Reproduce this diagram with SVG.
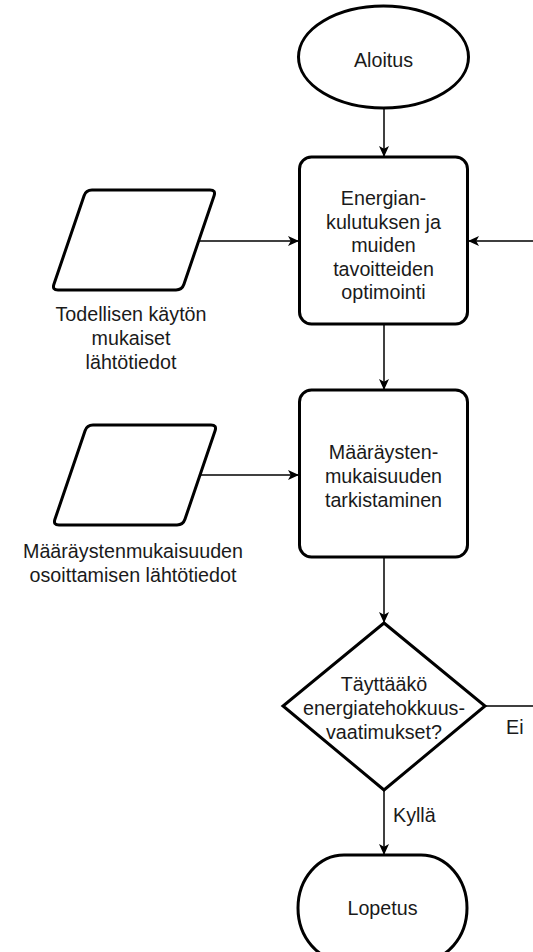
<svg xmlns="http://www.w3.org/2000/svg" width="533" height="952" viewBox="0 0 533 952">
<style>
.shape{fill:#ffffff;stroke:#000000;stroke-width:3}
.edge{fill:none;stroke:#000000;stroke-width:1.5}
.lbl{font-family:"Liberation Sans",Arial,Helvetica,sans-serif;font-size:19.7px;fill:#1a1a1a;text-anchor:middle}
.elbl{font-family:"Liberation Sans",Arial,Helvetica,sans-serif;font-size:19.7px;fill:#1a1a1a;text-anchor:start}
</style>
<defs>
<marker id="arr" markerUnits="userSpaceOnUse" markerWidth="14" markerHeight="14" viewBox="0 0 14 14" refX="12" refY="6" orient="auto">
<path d="M1,1 L12,6 L1,11 L3.8,6 Z" fill="#000000"/>
</marker>
<path id="para" d="M92,190 L210,190 Q216,190 214.07,195.68 L183.93,284.32 Q182,290 176,290 L58,290 Q52,290 53.93,284.32 L84.07,195.68 Q86,190 92,190 Z"/>
</defs>
<rect width="533" height="952" fill="#ffffff"/>
<g id="connectors">
<line class="edge" x1="384" y1="108" x2="384" y2="157" marker-end="url(#arr)"/>
<line class="edge" x1="199" y1="241" x2="299" y2="241" marker-end="url(#arr)"/>
<polyline class="edge" points="485,706 540,706 540,241 468,241" marker-end="url(#arr)"/>
<line class="edge" x1="384" y1="324" x2="384" y2="390" marker-end="url(#arr)"/>
<line class="edge" x1="200" y1="475" x2="299" y2="475" marker-end="url(#arr)"/>
<line class="edge" x1="384" y1="557" x2="384" y2="623" marker-end="url(#arr)"/>
<line class="edge" x1="384" y1="790" x2="384" y2="855" marker-end="url(#arr)"/>
<text class="elbl" x="506" y="734">Ei</text>
<text class="elbl" x="393" y="822">Kyllä</text>
</g>
<g id="start">
<ellipse class="shape" cx="383.5" cy="57" rx="85" ry="51"/>
<text class="lbl" x="383.5" y="67">Aloitus</text>
</g>
<g id="optimize">
<rect class="shape" x="299.5" y="157" width="168" height="167" rx="12" ry="12"/>
<text class="lbl" x="383.5" y="205">Energian-</text>
<text class="lbl" x="383.5" y="228.5">kulutuksen ja</text>
<text class="lbl" x="383.5" y="252">muiden</text>
<text class="lbl" x="383.5" y="275.5">tavoitteiden</text>
<text class="lbl" x="383.5" y="299">optimointi</text>
</g>
<g id="input1">
<use href="#para" class="shape"/>
<text class="lbl" x="131" y="321">Todellisen käytön</text>
<text class="lbl" x="131" y="345">mukaiset</text>
<text class="lbl" x="131" y="369">lähtötiedot</text>
</g>
<g id="check">
<rect class="shape" x="299.5" y="390" width="168" height="167" rx="12" ry="12"/>
<text class="lbl" x="383.5" y="459">Määräysten-</text>
<text class="lbl" x="383.5" y="483">mukaisuuden</text>
<text class="lbl" x="383.5" y="507">tarkistaminen</text>
</g>
<g id="input2">
<use href="#para" class="shape" transform="translate(1,235)"/>
<text class="lbl" x="133" y="558">Määräystenmukaisuuden</text>
<text class="lbl" x="133" y="582">osoittamisen lähtötiedot</text>
</g>
<g id="decision">
<polygon class="shape" points="384,623 485,706 384,790 283,706"/>
<text class="lbl" x="384" y="691">Täyttääkö</text>
<text class="lbl" x="384" y="715">energiatehokkuus-</text>
<text class="lbl" x="384" y="739">vaatimukset?</text>
</g>
<g id="end">
<rect class="shape" x="298" y="855" width="169" height="106" rx="46" ry="53"/>
<text class="lbl" x="382.5" y="915">Lopetus</text>
</g>
</svg>
